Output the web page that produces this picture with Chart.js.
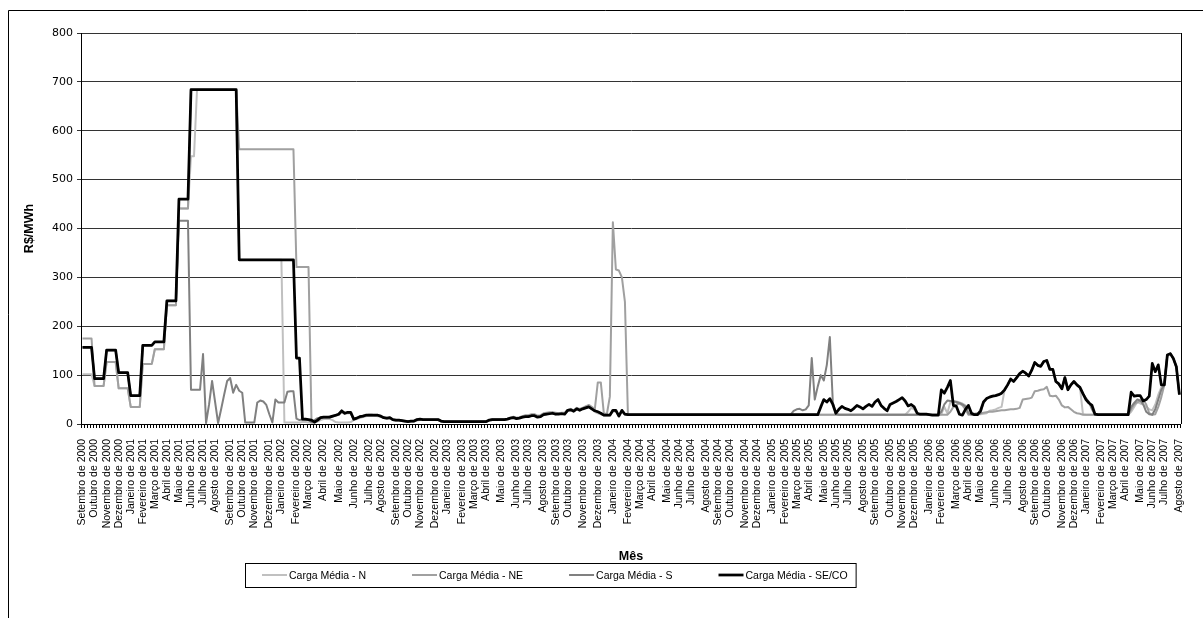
<!DOCTYPE html>
<html>
<head>
<meta charset="utf-8">
<script src="https://cdn.jsdelivr.net/npm/chart.js@4.4.0/dist/chart.umd.min.js"></script>
<style>
  body { margin: 0; background: #fff; }
  canvas { display: block; }
</style>
</head>
<body>
<canvas id="chart" width="1203" height="618"></canvas>
<script>
// weekly PLD (R$/MWh), Setembro 2000 .. Agosto 2007, one value per week
const monthNames = ['Janeiro', 'Fevereiro', 'Março', 'Abril', 'Maio', 'Junho',
  'Julho', 'Agosto', 'Setembro', 'Outubro', 'Novembro', 'Dezembro'];
const firstMonth = [2000, 8];
const weekCount = 365;
// week on which each month label sits, Setembro 2000 first
const labelWeeks = [
  0, 4, 8, 12,
  16, 20, 24, 28, 32, 36, 40, 44, 49, 53, 57, 62,
  66, 71, 75, 80, 85, 90, 95, 99, 104, 108, 112, 117,
  121, 126, 130, 134, 139, 144, 148, 153, 157, 161, 166, 171,
  176, 181, 185, 189, 194, 198, 202, 207, 211, 215, 220, 224,
  229, 233, 237, 241, 246, 250, 254, 259, 263, 268, 272, 276,
  281, 285, 290, 294, 298, 303, 307, 312, 316, 320, 325, 329,
  333, 338, 342, 346, 351, 355, 359, 364
];
const yTicks = [0, 100, 200, 300, 400, 500, 600, 700, 800];

const pldN = [
  102,102,102,102,78,78,78,78,127,127,
  127,127,73,73,73,73,35,35,35,35,
  123,123,123,123,153,153,153,153,243,243,
  243,243,441,441,441,441,548,548,684,684,
  684,684,684,684,684,684,684,684,684,684,
  684,684,336,336,336,336,336,336,336,336,
  336,336,336,336,336,336,336,3,3,3,
  3,3,3,4,4,3,3,3,5,8,
  10,10,10,8,4,3,3,3,3,4,
  8,10,12,14,16,17,17,17,16,15,
  12,11,11,8,7,7,6,5,4,5,
  5,7,8,8,8,8,8,8,8,5,
  4,4,4,4,4,4,4,4,4,4,
  4,4,4,4,4,7,8,8,8,8,
  9,10,12,13,12,13,15,17,17,19,
  19,16,17,21,22,23,23,22,21,22,
  22,27,30,28,32,30,33,36,37,31,
  25,22,20,18,18,18,25,26,17,25,
  19,19,19,19,19,19,19,19,19,19,
  19,19,19,19,19,19,19,19,19,19,
  19,19,19,19,19,19,19,19,19,19,
  19,19,19,19,19,19,19,19,19,19,
  19,19,19,19,19,19,19,19,19,19,
  19,19,19,19,19,19,19,19,19,19,
  19,19,19,19,19,19,19,19,19,19,
  19,19,19,19,19,19,19,19,19,19,
  19,19,19,19,19,19,19,19,19,19,
  19,19,19,19,25,33,30,20,19,19,
  19,19,19,19,19,20,35,22,45,47,
  46,44,42,38,20,19,19,20,20,21,
  22,27,28,30,33,35,70,80,92,87,
  95,103,108,104,98,110,126,120,118,128,
  130,112,112,87,82,72,95,70,80,87,
  80,75,20,19,19,19,19,19,19,19,
  19,19,19,19,19,19,19,19,25,35,
  45,42,40,35,30,28,40,60,75,80,
  141,144,134,117,60
];

const pldNE = [
  175,175,175,175,78,78,78,78,127,127,
  127,127,73,73,73,73,35,35,35,35,
  123,123,123,123,153,153,153,153,243,243,
  243,243,441,441,441,441,684,684,684,684,
  684,684,684,684,684,684,684,684,684,684,
  684,684,562,562,562,562,562,562,562,562,
  562,562,562,562,562,562,562,562,562,562,
  562,321,321,321,321,321,3,3,6,12,
  13,13,13,15,17,19,24,21,22,22,
  9,11,14,15,17,17,17,17,17,15,
  12,11,12,8,7,7,6,5,5,5,
  5,8,9,8,8,8,8,8,8,5,
  5,5,5,5,5,5,5,5,5,5,
  5,5,5,5,5,8,10,10,10,10,
  10,11,13,15,13,14,16,18,18,20,
  20,17,18,22,23,24,24,23,22,23,
  23,29,31,28,33,31,33,36,39,35,
  30,85,85,22,20,56,413,316,314,300,
  250,19,19,19,19,19,19,19,19,19,
  19,19,19,19,19,19,19,19,19,19,
  19,19,19,19,19,19,19,19,19,19,
  19,19,19,19,19,19,19,19,19,19,
  19,19,19,19,19,19,19,19,19,19,
  19,19,19,19,19,19,19,19,19,19,
  19,19,19,19,19,19,19,19,19,19,
  19,19,19,19,19,19,19,19,19,19,
  19,19,19,19,19,19,19,19,19,19,
  19,19,19,19,19,19,19,19,19,19,
  19,19,19,19,19,19,19,19,25,35,
  40,42,38,30,19,20,21,22,22,23,
  24,25,25,26,27,28,28,29,30,30,
  31,33,50,51,52,54,67,68,70,71,
  76,58,57,58,50,38,34,35,30,25,
  22,21,19,19,19,19,19,19,19,19,
  19,19,19,19,19,19,19,19,30,40,
  44,48,50,40,22,19,20,35,55,80,
  141,144,134,117,60
];

const pldS = [
  157,157,157,157,93,93,93,93,151,151,
  151,151,105,105,105,105,58,58,58,58,
  161,161,161,161,168,168,168,168,252,252,
  252,252,416,416,416,416,70,70,70,70,
  143,2,40,88,45,2,30,60,88,94,
  64,80,68,64,3,3,3,3,44,48,
  46,39,20,3,50,44,44,44,66,67,
  67,11,8,9,8,8,4,8,12,13,
  14,14,15,16,18,20,26,22,23,23,
  10,12,15,16,18,19,19,18,18,16,
  13,12,13,9,8,8,7,6,6,6,
  6,9,10,9,9,9,9,9,9,6,
  5,5,5,5,5,5,5,5,5,5,
  5,5,5,5,5,8,9,9,9,9,
  9,10,12,13,11,12,14,15,16,17,
  17,15,15,19,20,22,22,20,21,21,
  21,28,29,27,31,29,31,33,35,31,
  27,25,22,18,18,18,27,27,17,27,
  20,19,19,19,19,19,19,19,19,19,
  19,19,19,19,19,19,19,19,19,19,
  19,19,19,19,19,19,19,19,19,19,
  19,19,19,19,19,19,19,19,19,19,
  19,19,19,19,19,19,19,19,19,19,
  19,19,19,19,19,19,27,30,31,28,
  30,38,135,50,77,100,89,121,178,44,
  21,19,19,19,19,19,19,19,19,19,
  19,19,19,19,19,19,19,19,19,19,
  19,19,19,19,19,19,19,19,19,19,
  19,19,19,19,19,25,40,48,47,46,
  45,43,40,36,22,19,19,19,22,45,
  52,55,57,58,60,63,70,80,92,87,
  95,103,108,104,98,110,126,120,118,128,
  130,112,112,87,82,72,95,70,80,87,
  80,75,62,53,45,30,19,19,19,19,
  19,19,19,19,19,19,19,19,35,43,
  50,48,40,25,20,19,30,50,70,80,
  141,144,134,117,60
];

const pldSECO = [
  157,157,157,157,93,93,93,93,151,151,
  151,151,105,105,105,105,58,58,58,58,
  161,161,161,161,168,168,168,168,252,252,
  252,252,460,460,460,460,684,684,684,684,
  684,684,684,684,684,684,684,684,684,684,
  684,684,336,336,336,336,336,336,336,336,
  336,336,336,336,336,336,336,336,336,336,
  336,135,135,10,10,9,8,4,8,13,
  14,14,14,16,18,20,27,22,24,24,
  10,12,15,16,18,18,18,18,18,16,
  13,12,13,9,8,8,7,6,5,6,
  6,9,10,9,9,9,9,9,9,6,
  5,5,5,5,5,5,5,5,5,5,
  5,5,5,5,5,8,9,9,9,9,
  9,10,12,13,11,12,14,15,15,17,
  17,14,15,19,20,21,22,20,20,21,
  20,28,29,26,31,28,31,33,35,31,
  27,25,22,18,18,18,28,28,16,28,
  20,19,19,19,19,19,19,19,19,19,
  19,19,19,19,19,19,19,19,19,19,
  19,19,19,19,19,19,19,19,19,19,
  19,19,19,19,19,19,19,19,19,19,
  19,19,19,19,19,19,19,19,19,19,
  19,19,19,19,19,19,19,19,19,19,
  19,19,19,19,19,35,50,45,52,40,
  22,30,36,32,30,27,32,38,35,31,
  36,40,36,45,50,38,32,27,40,43,
  46,50,54,47,37,40,35,22,20,20,
  20,19,18,18,18,70,63,75,89,38,
  36,20,18,30,38,22,19,19,27,45,
  52,55,57,58,60,63,70,80,92,87,
  95,103,108,104,98,110,126,120,118,128,
  130,112,112,87,82,72,95,70,80,87,
  80,75,62,50,43,38,20,19,19,19,
  19,19,19,19,19,19,19,19,65,57,
  58,58,47,50,57,124,107,121,80,80,
  141,144,134,117,60
];

[pldN, pldNE, pldS, pldSECO].forEach((s, k) => {
  if (s.length !== weekCount) throw new Error('series ' + k + ' has ' + s.length + ' points');
});

// one category per week; the month name sits on the week listed in labelWeeks
const weekLabels = new Array(weekCount).fill('');
labelWeeks.forEach((w, k) => {
  const m = (firstMonth[1] + k) % 12;
  const y = firstMonth[0] + Math.floor((firstMonth[1] + k) / 12);
  weekLabels[w] = monthNames[m] + ' de ' + y;
});

const sans = '"Liberation Sans", Arial, sans-serif';
const wide = '"DejaVu Sans", sans-serif';

const framePlugin = {
  id: 'frame',
  beforeDraw(chart) {
    const ctx = chart.ctx;
    ctx.save();
    ctx.fillStyle = '#fff';
    ctx.fillRect(0, 0, chart.width, chart.height);
    ctx.restore();
  },
  afterDraw(chart) {
    const ctx = chart.ctx;
    const a = chart.chartArea;
    ctx.save();
    ctx.strokeStyle = '#000';
    ctx.lineWidth = 1;
    ctx.beginPath();
    ctx.moveTo(8.5, chart.height);
    ctx.lineTo(8.5, 10.5);
    ctx.lineTo(chart.width, 10.5);
    ctx.moveTo(Math.round(a.right) + 0.5, a.top);
    ctx.lineTo(Math.round(a.right) + 0.5, a.bottom);
    ctx.stroke();

    // legend in a box
    const boxX = 245, boxY = 563, boxH = 24, gap = 46;
    ctx.font = '10.5px ' + sans;
    ctx.textBaseline = 'middle';
    let x = boxX + 17;
    const midY = boxY + boxH / 2;
    chart.data.datasets.forEach(ds => {
      ctx.strokeStyle = ds.borderColor;
      ctx.lineWidth = ds.borderWidth;
      ctx.beginPath();
      ctx.moveTo(x, midY);
      ctx.lineTo(x + 25, midY);
      ctx.stroke();
      ctx.fillStyle = '#000';
      ctx.fillText(ds.label, x + 27, midY + 1);
      x += 27 + ctx.measureText(ds.label).width + gap;
    });
    ctx.strokeStyle = '#000';
    ctx.lineWidth = 1;
    ctx.strokeRect(boxX + 0.5, boxY + 0.5, x - gap + 8 - boxX, boxH);
    ctx.restore();
  }
};

new Chart(document.getElementById('chart'), {
  type: 'line',
  data: {
    labels: weekLabels,
    datasets: [
      { label: 'Carga Média - N', data: pldN, borderColor: '#c0c0c0', borderWidth: 2, order: 3 },
      { label: 'Carga Média - NE', data: pldNE, borderColor: '#a0a0a0', borderWidth: 2, order: 2 },
      { label: 'Carga Média - S', data: pldS, borderColor: '#808080', borderWidth: 2, order: 1 },
      { label: 'Carga Média - SE/CO', data: pldSECO, borderColor: '#000000', borderWidth: 2.75, order: 0 }
    ]
  },
  options: {
    responsive: false,
    animation: false,
    devicePixelRatio: 1,
    layout: { padding: { left: 0, top: 33, right: 11, bottom: 53 } },
    elements: {
      point: { radius: 0 },
      line: { tension: 0, borderJoinStyle: 'round', fill: false }
    },
    plugins: {
      legend: { display: false },
      tooltip: { enabled: false }
    },
    scales: {
      x: {
        offset: true,
        grid: { display: true, drawOnChartArea: false, drawTicks: true, tickLength: 4, color: '#000', offset: true },
        border: { display: true, color: '#000', width: 1 },
        ticks: {
          autoSkip: false, minRotation: 90, maxRotation: 90, padding: 11,
          color: '#000', font: { family: sans, size: 10.5 }
        },
        title: {
          display: true, text: 'Mês', color: '#000',
          font: { family: sans, size: 12.5, weight: 'bold' },
          padding: { top: 0, bottom: 1 }
        },
        afterFit(scale) { scale.height = 141; }
      },
      y: {
        min: 0, max: 800,
        afterBuildTicks(scale) { scale.ticks = yTicks.map(v => ({ value: v })); },
        grid: { color: '#333', tickLength: 4, drawTicks: true },
        border: { display: true, color: '#000', width: 1 },
        ticks: { padding: 4, color: '#000', font: { family: wide, size: 11 } },
        title: {
          display: true, text: 'R$/MWh', color: '#000',
          font: { family: sans, size: 12.5, weight: 'bold' },
          padding: { top: 22, bottom: 0 }
        },
        afterFit(scale) { scale.width = 81; }
      }
    }
  },
  plugins: [framePlugin]
});
</script>
</body>
</html>
